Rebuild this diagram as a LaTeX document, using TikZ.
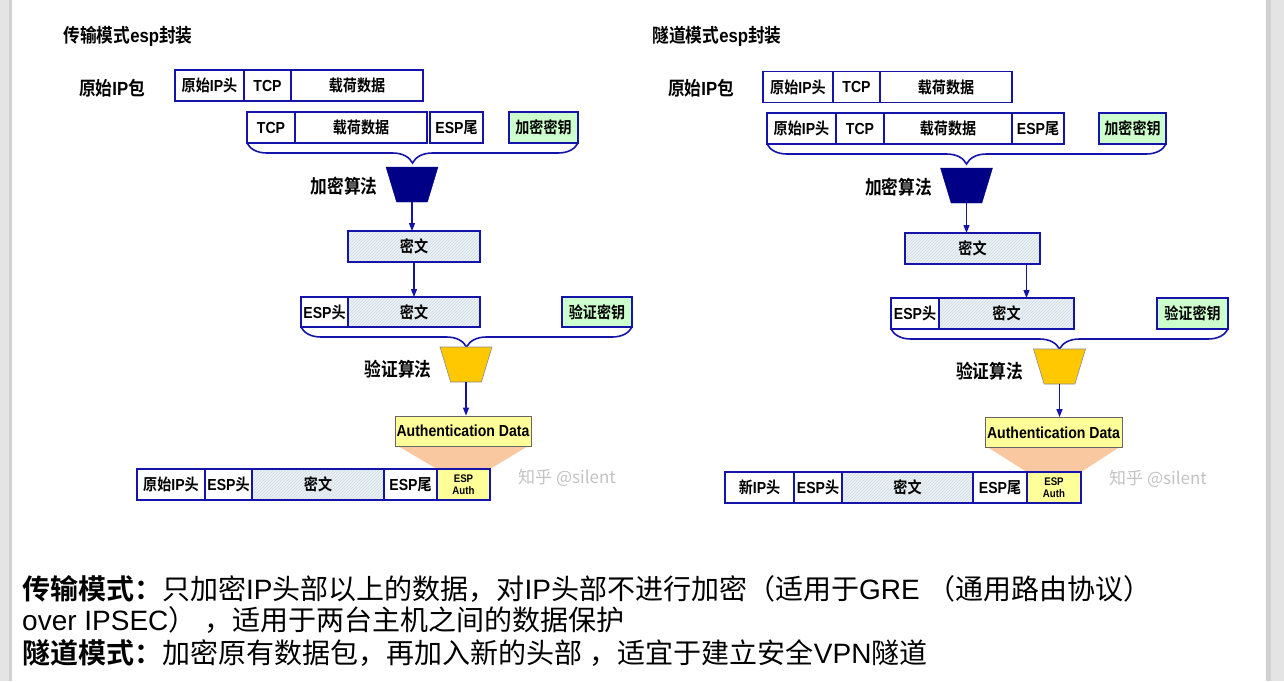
\documentclass[tikz,border=0pt]{standalone}
\usepackage{fontspec}
\setmainfont{Liberation Sans}
\newfontfamily\zh[BoldFont={Noto Sans CJK SC Bold}]{Noto Sans CJK SC}
\newfontfamily\latn[FakeStretch=0.88]{Liberation Sans}
\newfontfamily\zhn[FakeStretch=0.88, BoldFont={Noto Sans CJK SC Bold}]{Noto Sans CJK SC}
\newcommand{\zc}[1]{{\zhn #1}}
\newcommand{\lbl}{\latn\bfseries\fontsize{16}{18}\selectfont}
\newcommand{\biglbl}{\latn\bfseries\fontsize{19}{21}\selectfont}
\newcommand{\tinylbl}{\latn\bfseries\fontsize{11}{12.5}\selectfont}
\newcommand{\paratext}{\fontsize{28}{31}\selectfont}
\usepackage{tikz}
\usetikzlibrary{arrows.meta, positioning, fit, shapes.geometric, calc, decorations.pathreplacing, patterns}
\pgfdeclarelayer{background}
\pgfsetlayers{background,main}
\usepackage{xcolor}
\definecolor{boxblue}{RGB}{20,20,170}
\definecolor{navyfill}{RGB}{0,0,135}
\definecolor{keygreen}{RGB}{204,255,204}
\definecolor{hatchbg}{RGB}{236,242,246}
\definecolor{hatchline}{RGB}{208,218,226}
\definecolor{goldfill}{RGB}{255,200,0}
\definecolor{paleyellow}{RGB}{255,255,153}
\definecolor{peach}{RGB}{250,200,160}
\definecolor{stripgray}{RGB}{228,228,228}
\definecolor{stripedge}{RGB}{208,208,208}
\definecolor{markgray}{RGB}{195,195,195}

\begin{document}
\begin{tikzpicture}[
x=1pt, y=-1pt,
cell/.style={rectangle, draw=boxblue, line width=1.6pt, inner sep=0pt, outer sep=0pt,
minimum height=31pt, font=\lbl},
key/.style={cell, fill=keygreen},
hatch/.style={preaction={fill=hatchbg}, pattern=north east lines, pattern color=hatchline},
authcell/.style={cell, fill=paleyellow, font=\tinylbl, align=center},
authbox/.style={rectangle, draw=black!60, line width=0.8pt, fill=paleyellow, inner sep=0pt,
minimum height=30pt, font=\lbl},
arrow/.style={draw=boxblue, line width=1.2pt, -{Triangle[length=8pt, width=6pt]}},
brace/.style={draw=boxblue, line width=1.6pt, decorate, decoration={brace, mirror, amplitude=20pt}},
encfunnel/.style={trapezium, shape border rotate=180, trapezium angle=71, trapezium stretches=true,
minimum width=52pt, minimum height=35pt, inner sep=2pt, fill=navyfill, draw=navyfill},
authfunnel/.style={encfunnel, fill=goldfill, draw=black!45, line width=0.6pt},
lab/.style={font=\biglbl},
wmark/.style={font=\fontsize{17}{19}\selectfont, text=markgray},
para/.style={font=\paratext, inner sep=0pt, anchor=west}
]

\useasboundingbox (0,0) rectangle (1284,681);
\begin{pgfonlayer}{background}
\fill[white] (0,0) rectangle (1284,681);
\fill[stripgray] (0,0) rectangle (12,681);
\fill[stripedge] (9,0) rectangle (12,681);
\fill[stripgray] (1266,0) rectangle (1284,681);
\fill[stripedge] (1266,0) rectangle (1271,681);
\end{pgfonlayer}

% transport mode
\node[lab] (tTitle) at (128,36) {\zc{传输模式}esp\zc{封装}};
\node[lab] (tOrig) at (112,88) {\zc{原始}IP\zc{包}};

\node[cell, minimum width=69pt, anchor=west] (tIP1) at (175,85.5) {\zc{原始}IP\zc{头}};
\node[cell, minimum width=47pt, right=0pt of tIP1] (tTCP1) {TCP};
\node[cell, minimum width=132pt, right=0pt of tTCP1] (tData1) {\zc{载荷数据}};

\node[cell, minimum width=48pt, anchor=west] (tTCP2) at (247,127.5) {TCP};
\node[cell, minimum width=132pt, right=0pt of tTCP2] (tData2) {\zc{载荷数据}};
\node[cell, minimum width=53pt, right=3pt of tData2] (tTrl2) {ESP\zc{尾}};
\node[key, minimum width=69pt, anchor=west] (tKeyE) at (509,127.5) {\zc{加密密钥}};
\draw[brace] (tTCP2.south west) -- (tKeyE.south east);

\node[encfunnel] (tEnc) at (412,184.5) {};
\node[lab, left=10pt of tEnc, yshift=-2pt] (tEncLab) {\zc{加密算法}};

\node[cell, hatch, minimum width=132pt] (tCiph) at (414,246.5) {\zc{密文}};
\draw[arrow] (tEnc.south) -- (tEnc.south |- tCiph.north);

\node[cell, minimum width=47pt, minimum height=30pt, anchor=west] (tEspH2) at (301,312) {ESP\zc{头}};
\node[cell, hatch, minimum width=132pt, minimum height=30pt, right=0pt of tEspH2] (tCiph2) {\zc{密文}};
\node[key, minimum width=70pt, minimum height=30pt, anchor=west] (tKeyA) at (562,312) {\zc{验证密钥}};
\draw[arrow] (tCiph.south) -- (tCiph2.north);
\draw[brace] (tEspH2.south west) -- (tKeyA.south east);

\node[authfunnel] (tAuthAlg) at (466,364.5) {};
\node[lab, left=10pt of tAuthAlg, yshift=-5pt] (tAuthLab) {\zc{验证算法}};
\node[authbox, minimum width=136pt] (tAuthData) at (463,431) {Authentication Data};
\draw[arrow] (tAuthAlg.south) -- (tAuthAlg.south |- tAuthData.north);

\node[cell, minimum width=68pt, anchor=west] (tIP3) at (137,484.5) {\zc{原始}IP\zc{头}};
\node[cell, minimum width=47pt, right=0pt of tIP3] (tEspH3) {ESP\zc{头}};
\node[cell, hatch, minimum width=132pt, right=0pt of tEspH3] (tCiph3) {\zc{密文}};
\node[cell, minimum width=53pt, right=0pt of tCiph3] (tTrl3) {ESP\zc{尾}};
\node[authcell, minimum width=53pt, right=0pt of tTrl3] (tAuth3) {ESP\\Auth};
\node[fit=(tIP3)(tAuth3), draw=boxblue, line width=2.6pt, inner sep=0pt] (tRow3) {};
\begin{pgfonlayer}{background}
\fill[peach] ([xshift=4pt]tAuthData.south west) -- ([xshift=-4pt]tAuthData.south east)
-- (tAuth3.north east) -- (tAuth3.north west) -- cycle;
\end{pgfonlayer}
\node[wmark] (tMark) at (567,478) {\zh 知乎 @silent};

% tunnel mode
\node[lab] (uTitle) at (717,36) {\zc{隧道模式}esp\zc{封装}};
\node[lab] (uOrig) at (701,88) {\zc{原始}IP\zc{包}};

\node[cell, minimum width=70pt, anchor=west] (uIP1) at (763,87) {\zc{原始}IP\zc{头}};
\node[cell, minimum width=47pt, right=0pt of uIP1] (uTCP1) {TCP};
\node[cell, minimum width=132pt, right=0pt of uTCP1] (uData1) {\zc{载荷数据}};

\node[cell, minimum width=69pt, anchor=west] (uIP2) at (767,128.5) {\zc{原始}IP\zc{头}};
\node[cell, minimum width=48pt, right=0pt of uIP2] (uTCP2) {TCP};
\node[cell, minimum width=128pt, right=0pt of uTCP2] (uData2) {\zc{载荷数据}};
\node[cell, minimum width=52pt, right=0pt of uData2] (uTrl2) {ESP\zc{尾}};
\node[key, minimum width=67pt, anchor=west] (uKeyE) at (1099,128.5) {\zc{加密密钥}};
\draw[brace] (uIP2.south west) -- (uKeyE.south east);

\node[encfunnel] (uEnc) at (966.5,185.5) {};
\node[lab, left=10pt of uEnc, yshift=-2pt] (uEncLab) {\zc{加密算法}};

\node[cell, hatch, minimum width=135pt] (uCiph) at (972.5,248.5) {\zc{密文}};
\draw[arrow] (uEnc.south) -- (uEnc.south |- uCiph.north);

\node[cell, minimum width=48pt, anchor=west] (uEspH2) at (891,313.5) {ESP\zc{头}};
\node[cell, hatch, minimum width=135pt, right=0pt of uEspH2] (uCiph2) {\zc{密文}};
\node[key, minimum width=71pt, anchor=west] (uKeyA) at (1157,313.5) {\zc{验证密钥}};
\draw[arrow] ([xshift=54pt]uCiph.south) -- ([xshift=54pt]uCiph.south |- uCiph2.north);
\draw[brace] (uEspH2.south west) -- (uKeyA.south east);

\node[authfunnel] (uAuthAlg) at (1059.5,366.5) {};
\node[lab, left=12pt of uAuthAlg, yshift=-5pt] (uAuthLab) {\zc{验证算法}};
\node[authbox, minimum width=137pt] (uAuthData) at (1053.5,432.5) {Authentication Data};
\draw[arrow] (uAuthAlg.south) -- (uAuthAlg.south |- uAuthData.north);

\node[cell, minimum width=69pt, anchor=west] (uIP3) at (725,487.5) {\zc{新}IP\zc{头}};
\node[cell, minimum width=48pt, right=0pt of uIP3] (uEspH3) {ESP\zc{头}};
\node[cell, hatch, minimum width=131pt, right=0pt of uEspH3] (uCiph3) {\zc{密文}};
\node[cell, minimum width=54pt, right=0pt of uCiph3] (uTrl3) {ESP\zc{尾}};
\node[authcell, minimum width=54pt, right=0pt of uTrl3] (uAuth3) {ESP\\Auth};
\node[fit=(uIP3)(uAuth3), draw=boxblue, line width=2.6pt, inner sep=0pt] (uRow3) {};
\begin{pgfonlayer}{background}
\fill[peach] ([xshift=4pt]uAuthData.south west) -- ([xshift=-4pt]uAuthData.south east)
-- (uAuth3.north east) -- (uAuth3.north west) -- cycle;
\end{pgfonlayer}
\node[wmark] (uMark) at (1158,479) {\zh 知乎 @silent};

% notes
\node[para] (noteA) at (22,589) {{\zh\bfseries 传输模式：}{\zh 只加密}IP{\zh 头部以上的数据，对}IP{\zh 头部不进行加密（适用于}GRE {\zh （通用路由协议）}};
\node[para] (noteB) at (22,620) {over IPSEC{\zh ）} {\zh ，适用于两台主机之间的数据保护}};
\node[para] (noteC) at (22,653) {{\zh\bfseries 隧道模式：}{\zh 加密原有数据包，再加入新的头部} {\zh ，适宜于建立安全}VPN{\zh 隧道}};

\end{tikzpicture}
\end{document}
